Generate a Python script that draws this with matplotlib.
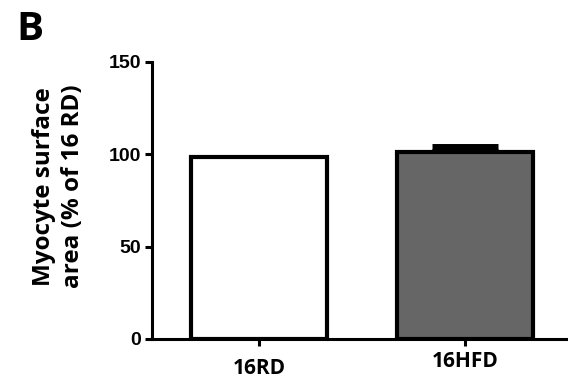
import matplotlib
matplotlib.use("Agg")
import matplotlib.pyplot as plt

categories = ["16RD", "16HFD"]
values = [98.7, 101.5]
errors_upper = [0.0, 2.3]
colors = ["white", "#666666"]
yticks = [0, 50, 100, 150]

fig = plt.figure(figsize=(5.68, 3.85), dpi=100)
ax = fig.add_axes([0.2676, 0.1195, 0.7324, 0.7195])
x = [0, 1]
ax.bar(x, values, width=0.66, color=colors, edgecolor="black", linewidth=3, zorder=2)
ax.errorbar([x[1]], [values[1]], yerr=[[0], [errors_upper[1]]], fmt="none",
            ecolor="black", elinewidth=3, capsize=24, capthick=5, zorder=1)
ax.set_xlim(-0.519, 1.5)
ax.set_ylim(0, 150)
ax.set_yticks(yticks)
ax.set_yticklabels([str(t) for t in yticks], fontfamily="Liberation Sans", fontweight="bold", fontsize=14)
ax.set_xticks(x)
ax.set_xticklabels(categories, fontfamily="Open Sans", fontweight="bold", fontsize=15)
labs = ax.get_xticklabels()
labs[0].set_y(-0.025)
labs[1].set_y(0.0)
for s in ["top", "right"]:
    ax.spines[s].set_visible(False)
for s in ["left", "bottom"]:
    ax.spines[s].set_linewidth(2.2)
ax.tick_params(axis="both", width=2.2, length=5, color="black")
ax.tick_params(axis="x", pad=4)
ax.tick_params(axis="y", pad=3)
ax.set_ylabel("Myocyte surface\narea (% of 16 RD)", fontfamily="Open Sans", fontweight="bold",
              fontsize=17.5, linespacing=1.25)
ax.yaxis.set_label_coords(-0.162, 0.55)
fig.text(0.028, 0.975, "B", fontfamily="Open Sans", fontweight="bold", fontsize=29, va="top", ha="left")
fig.savefig("out.png", dpi=100)
